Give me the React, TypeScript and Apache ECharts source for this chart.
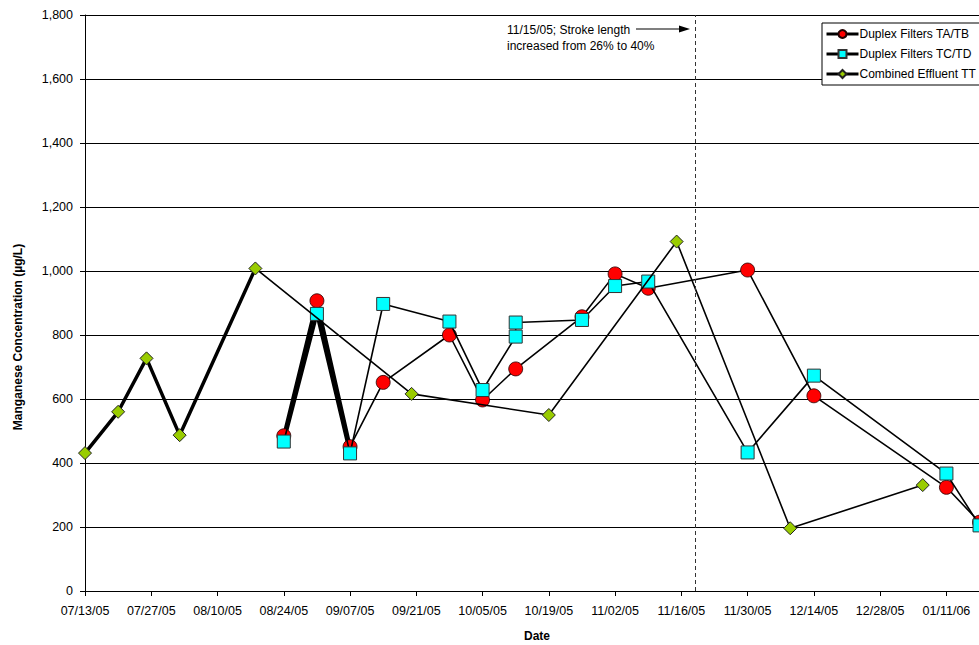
import React, { useEffect, useRef } from "react";
import * as echarts from "echarts";

// ---- data ----
const axisStartDate = "07/13/05";
const axisEndDate = "01/25/06";
const tickStepDays = 14;
const yTicks = [0, 200, 400, 600, 800, 1000, 1200, 1400, 1600, 1800];

const taTbName = "Duplex Filters TA/TB";
const taTbDates = ["08/24/05", "08/31/05", "09/07/05", "09/14/05", "09/28/05", "10/05/05", "10/12/05", "10/26/05", "11/02/05", "11/09/05", "11/30/05", "12/14/05", "01/11/06", "01/18/06"];
const taTbValues = [485, 907, 451, 652, 800, 597, 694, 857, 991, 946, 1003, 610, 324, 215];

const tcTdName = "Duplex Filters TC/TD";
const tcTdDates = ["08/24/05", "08/31/05", "09/07/05", "09/14/05", "09/28/05", "10/05/05", "10/12/05", "10/12/05", "10/26/05", "11/02/05", "11/09/05", "11/30/05", "12/14/05", "01/11/06", "01/18/06"];
const tcTdValues = [467, 866, 430, 897, 842, 628, 795, 839, 847, 953, 967, 433, 673, 367, 205];

const ttName = "Combined Effluent TT";
const ttDates = ["07/13/05", "07/20/05", "07/26/05", "08/02/05", "08/18/05", "09/20/05", "10/19/05", "11/15/05", "12/09/05", "01/06/06"];
const ttValues = [431, 560, 727, 487, 1008, 616, 550, 1092, 196, 331];

// leading points of each series that are drawn with a heavy line in the original
const ttHeavyCount = 5;
const taTbHeavyCount = 3;
const tcTdHeavyCount = 3;

const strokeChangeDate = "11/19/05";
const annotationLines = ["11/15/05; Stroke length", "increased from 26% to 40%"];
const xTitle = "Date";
const yTitle = "Manganese Concentration (\u00b5g/L)";

// ---- helpers ----
const parseDate = (s: string) => {
  const [m, d, y] = s.split("/").map(Number);
  return Date.UTC(2000 + y, m - 1, d);
};
const t0 = parseDate(axisStartDate);
const dayOf = (s: string) => (parseDate(s) - t0) / 86400000;
const pad = (n: number) => (n < 10 ? "0" + n : "" + n);
const fmtDay = (v: number) => {
  const dt = new Date(t0 + v * 86400000);
  return pad(dt.getUTCMonth() + 1) + "/" + pad(dt.getUTCDate()) + "/" + pad(dt.getUTCFullYear() % 100);
};
const pts = (dates: string[], vals: number[]) => dates.map((d, i) => [dayOf(d), vals[i]]);

const FONT = "'Liberation Sans', Arial, sans-serif";

export default function App() {
  const ref = useRef<HTMLDivElement>(null);
  useEffect(() => {
    if (!ref.current) return;
    const chart = echarts.init(ref.current, undefined, { renderer: "svg" });
    const heavy = (name: string, data: number[][]) => ({
      name: name + " heavy",
      type: "line",
      data,
      symbol: "none",
      lineStyle: { color: "#000", width: 3.5 },
      silent: true,
      z: 1,
    });
    const taTb = pts(taTbDates, taTbValues);
    const tcTd = pts(tcTdDates, tcTdValues);
    const tt = pts(ttDates, ttValues);
    chart.setOption({
      animation: false,
      textStyle: { fontFamily: FONT, color: "#000" },
      grid: { left: 85, top: 15, width: 935, bottom: 54 },
      legend: {
        data: [taTbName, tcTdName, ttName],
        orient: "vertical",
        left: 822,
        top: 23,
        itemWidth: 32,
        itemHeight: 10,
        itemGap: 8,
        padding: [5, 80, 5, 3],
        borderColor: "#000",
        borderWidth: 1,
        backgroundColor: "#fff",
        lineStyle: { width: 3 },
        textStyle: { fontSize: 12, fontFamily: FONT, color: "#000", padding: [0, 0, 0, -4] },
      },
      xAxis: {
        type: "value",
        min: 0,
        max: dayOf(axisEndDate),
        interval: tickStepDays,
        axisLine: { lineStyle: { color: "#000", width: 1 } },
        axisTick: { show: true, length: 5, lineStyle: { color: "#000" } },
        axisLabel: { formatter: fmtDay, fontSize: 12.5, color: "#000", margin: 13, fontFamily: FONT },
        splitLine: { show: false },
      },
      yAxis: {
        type: "value",
        min: yTicks[0],
        max: yTicks[yTicks.length - 1],
        interval: yTicks[1] - yTicks[0],
        axisLine: { show: true, lineStyle: { color: "#000", width: 1 } },
        axisTick: { show: true, length: 5, lineStyle: { color: "#000" } },
        axisLabel: {
          formatter: (v: number) => v.toLocaleString("en-US"),
          fontSize: 12.5,
          color: "#000",
          margin: 12,
          fontFamily: FONT,
        },
        splitLine: { show: true, lineStyle: { color: "#000", width: 1 } },
      },
      graphic: [
        {
          type: "text",
          x: 507,
          y: 30,
          style: { text: annotationLines[0], font: "12px " + FONT, fill: "#000", textVerticalAlign: "middle" },
        },
        {
          type: "text",
          x: 507,
          y: 46,
          style: { text: annotationLines[1], font: "12px " + FONT, fill: "#000", textVerticalAlign: "middle" },
        },
        { type: "line", shape: { x1: 636, y1: 29, x2: 680, y2: 29 }, style: { stroke: "#000", lineWidth: 1.2 } },
        { type: "polygon", shape: { points: [[679, 25.5], [690, 29], [679, 32.5]] }, style: { fill: "#000" } },
        {
          type: "text",
          x: 537,
          y: 636,
          style: { text: xTitle, font: "bold 12px " + FONT, fill: "#000", textAlign: "center", textVerticalAlign: "middle" },
        },
        {
          type: "text",
          x: 18,
          y: 337,
          rotation: Math.PI / 2,
          style: { text: yTitle, font: "bold 12px " + FONT, fill: "#000", textAlign: "center", textVerticalAlign: "middle" },
        },
      ],
      series: [
        heavy(taTbName, taTb.slice(0, taTbHeavyCount)),
        heavy(tcTdName, tcTd.slice(0, tcTdHeavyCount)),
        heavy(ttName, tt.slice(0, ttHeavyCount)),
        {
          name: taTbName,
          type: "line",
          data: taTb,
          symbol: "circle",
          symbolSize: 14,
          lineStyle: { color: "#000", width: 1.6 },
          itemStyle: { color: "#ff0000", borderColor: "#200", borderWidth: 0.8 },
          z: 2,
        },
        {
          name: tcTdName,
          type: "line",
          data: tcTd,
          symbol: "rect",
          symbolSize: 13,
          lineStyle: { color: "#000", width: 1.6 },
          itemStyle: { color: "#00ffff", borderColor: "#333", borderWidth: 1 },
          z: 3,
        },
        {
          name: ttName,
          type: "line",
          data: tt,
          symbol: "diamond",
          symbolSize: 13,
          lineStyle: { color: "#000", width: 1.6 },
          itemStyle: { color: "#99cc00", borderColor: "#222", borderWidth: 1 },
          z: 4,
          markLine: {
            silent: true,
            symbol: ["none", "none"],
            label: { show: false },
            lineStyle: { color: "#333", width: 1, type: [4, 3] },
            data: [{ xAxis: dayOf(strokeChangeDate) }],
          },
        },
      ],
    });
    return () => chart.dispose();
  }, []);
  return (
    <div style={{ position: "fixed", left: 0, top: 0, width: 979, height: 645, overflow: "hidden", background: "#fff" }}>
      <div ref={ref} style={{ width: 1040, height: 645 }} />
    </div>
  );
}
